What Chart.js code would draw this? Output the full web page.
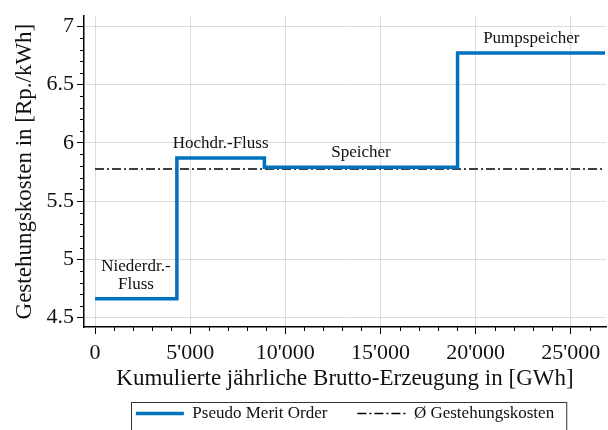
<!DOCTYPE html>
<html>
<head>
<meta charset="utf-8">
<script src="https://cdn.jsdelivr.net/npm/chart.js@4.4.1/dist/chart.umd.min.js"></script>
<style>
    html, body { margin: 0; padding: 0; background: #fff; }
    #wrap { width: 608px; height: 430px; }
</style>
</head>
<body>
<div id="wrap"><canvas id="meritGraph"></canvas></div>
<script>
// Daten
const grenzen = [0, 4300, 8900, 19050, 26800];      // kumulierte Erzeugung [GWh]
const kosten = [4.66, 5.87, 5.79, 6.77];            // Gestehungskosten [Rp./kWh]
const kategorien = [['Niederdr.-', 'Fluss'], ['Hochdr.-Fluss'], ['Speicher'], ['Pumpspeicher']];
const mittelKosten = 5.775;
const xTicks = [0, 5000, 10000, 15000, 20000, 25000];
const yTicks = [4.5, 5, 5.5, 6, 6.5, 7];

const SCHRIFT = '"Liberation Serif", "Times New Roman", serif';
const BLAU = '#0072BD';

// Stufenpunkte
const meritPunkte = grenzen.map((x, i) => ({ x: x, y: kosten[Math.min(i, kosten.length - 1)] }));
const mittelPunkte = [{ x: grenzen[0], y: mittelKosten }, { x: grenzen[grenzen.length - 1], y: mittelKosten }];

function tausender(v) {
    return String(v).replace(/\B(?=(\d{3})+(?!\d))/g, "'");
}

// Kleine Hilfsstriche an den Achsen
const minorTicks = {
    id: 'minorTicks',
    afterDraw(chart) {
        const ctx = chart.ctx;
        const xs = chart.scales.x, ys = chart.scales.y;
        ctx.save();
        ctx.strokeStyle = '#000';
        ctx.lineWidth = 1;
        ctx.beginPath();
        for (let v = 0; v <= xs.max; v += 1000) {
            if (v % 5000 === 0) continue;
            const px = Math.round(xs.getPixelForValue(v)) + 0.5;
            ctx.moveTo(px, xs.top);
            ctx.lineTo(px, xs.top + 4);
        }
        for (let i = Math.ceil(ys.min * 10); i <= ys.max * 10; i++) {
            if (i % 5 === 0) continue;
            const py = Math.round(ys.getPixelForValue(i / 10)) + 0.5;
            ctx.moveTo(ys.right, py);
            ctx.lineTo(ys.right - 4, py);
        }
        ctx.stroke();
        ctx.restore();
    }
};

// Beschriftung der Stufen
const stufenText = {
    id: 'stufenText',
    afterDatasetsDraw(chart) {
        const ctx = chart.ctx;
        const xs = chart.scales.x, ys = chart.scales.y;
        ctx.save();
        ctx.font = '17px ' + SCHRIFT;
        ctx.fillStyle = '#111';
        ctx.textAlign = 'center';
        ctx.textBaseline = 'alphabetic';
        kategorien.forEach((zeilen, i) => {
            const cx = xs.getPixelForValue((grenzen[i] + grenzen[i + 1]) / 2);
            const py = ys.getPixelForValue(kosten[i]);
            zeilen.slice().reverse().forEach((z, j) => {
                ctx.fillText(z, cx, py - 10 - j * 18);
            });
        });
        ctx.restore();
    }
};

// Rahmen um die Legende
const legendenRahmen = {
    id: 'legendenRahmen',
    afterDraw(chart) {
        const lg = chart.legend;
        if (!lg || !lg.legendHitBoxes.length) return;
        const boxes = lg.legendHitBoxes;
        const last = boxes[boxes.length - 1];
        const links = boxes[0].left - 5;
        const rechts = last.left + last.width + 12;
        const oben = boxes[0].top - 3;
        const ctx = chart.ctx;
        ctx.save();
        ctx.strokeStyle = '#333';
        ctx.lineWidth = 1;
        ctx.strokeRect(Math.round(links) + 0.5, Math.round(oben) + 0.5, rechts - links, 60);
        ctx.restore();
    }
};

const ctx = document.getElementById('meritGraph').getContext('2d');
new Chart(ctx, {
    type: 'line',
    data: {
        datasets: [{
            label: 'Pseudo Merit Order',
            data: meritPunkte,
            stepped: true,
            borderColor: BLAU,
            backgroundColor: BLAU,
            borderWidth: 3.5,
            pointRadius: 0
        }, {
            label: 'Ø Gestehungskosten',
            data: mittelPunkte,
            borderColor: '#000',
            backgroundColor: '#000',
            borderWidth: 1.3,
            borderDash: [9, 3, 2, 3],
            pointRadius: 0
        }]
    },
    options: {
        responsive: true,
        maintainAspectRatio: false,
        animation: false,
        layout: { padding: { top: 10, right: 2, left: 0, bottom: -2 } },
        scales: {
            x: {
                type: 'linear',
                min: -580,
                max: 26850,
                afterBuildTicks: (scale) => { scale.ticks = xTicks.map(v => ({ value: v })); },
                afterFit: (scale) => { scale.height = 48; },
                ticks: {
                    color: '#111',
                    font: { family: SCHRIFT, size: 22 },
                    padding: 6,
                    maxRotation: 0,
                    callback: (v) => tausender(v)
                },
                grid: { color: '#dcdcdc', lineWidth: 1, tickColor: '#000', tickLength: 7 },
                border: { color: '#000', width: 1.5 },
                title: {
                    display: true,
                    text: 'Kumulierte jährliche Brutto-Erzeugung in [GWh]',
                    color: '#111',
                    font: { family: SCHRIFT, size: 23 },
                    padding: { top: 0, bottom: -18 }
                }
            },
            y: {
                min: 4.418,
                max: 7.087,
                afterBuildTicks: (scale) => { scale.ticks = yTicks.map(v => ({ value: v })); },
                afterFit: (scale) => { scale.width = 84; },
                ticks: {
                    color: '#111',
                    font: { family: SCHRIFT, size: 22 },
                    padding: 3,
                    callback: (v) => String(v)
                },
                grid: { color: '#dcdcdc', lineWidth: 1, tickColor: '#000', tickLength: 7 },
                border: { color: '#000', width: 1.5 },
                title: {
                    display: true,
                    text: 'Gestehungskosten in [Rp./kWh]',
                    color: '#111',
                    font: { family: SCHRIFT, size: 23 },
                    padding: { top: 11, bottom: 0 }
                }
            }
        },
        plugins: {
            legend: {
                position: 'bottom',
                fullSize: false,
                labels: {
                    color: '#111',
                    font: { family: SCHRIFT, size: 17 },
                    usePointStyle: true,
                    pointStyle: 'line',
                    pointStyleWidth: 48,
                    padding: 30,
                    generateLabels: (chart) => {
                        const basis = Chart.defaults.plugins.legend.labels.generateLabels(chart);
                        return basis.map(item => {
                            const ds = chart.data.datasets[item.datasetIndex];
                            return Object.assign(item, {
                                lineDash: ds.borderDash || [],
                                lineWidth: ds.borderWidth,
                                strokeStyle: ds.borderColor,
                                pointStyle: 'line'
                            });
                        });
                    }
                }
            },
            tooltip: { enabled: false }
        }
    },
    plugins: [minorTicks, stufenText, legendenRahmen]
});
</script>
</body>
</html>
